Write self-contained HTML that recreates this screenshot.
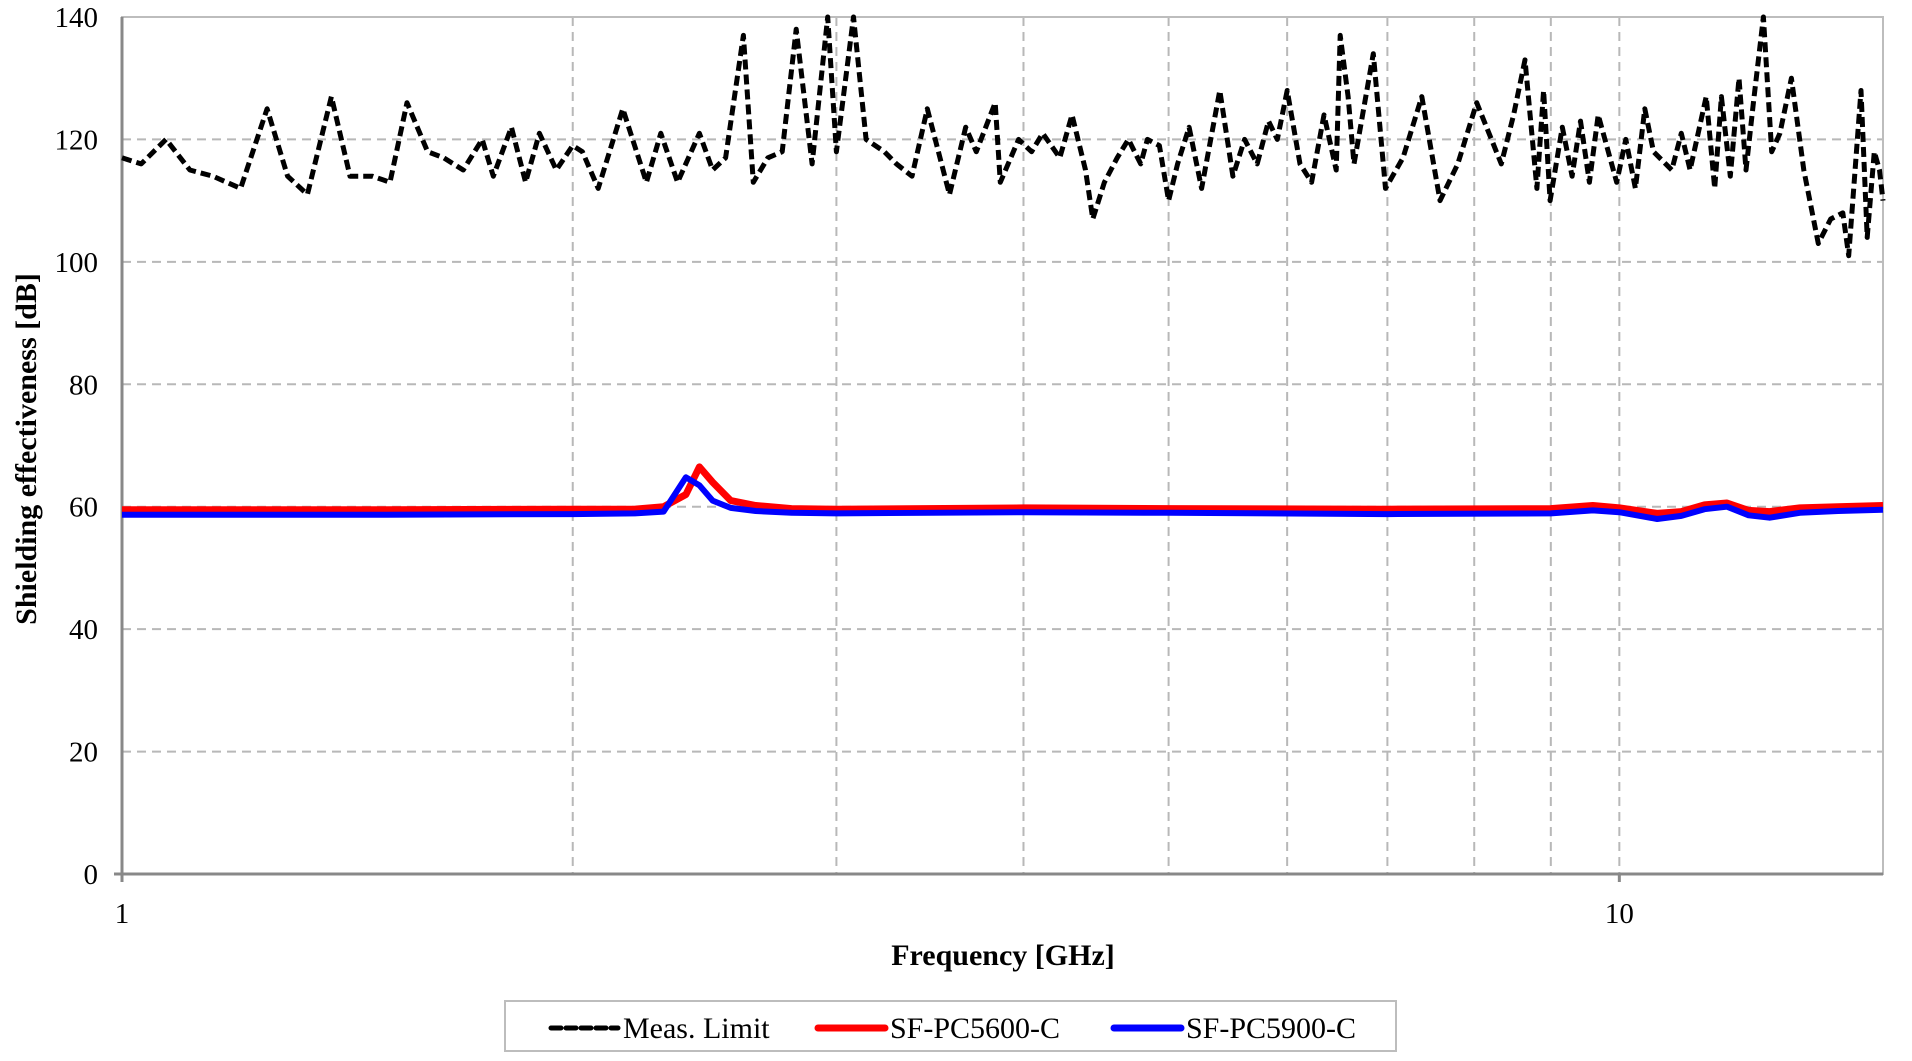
<!DOCTYPE html>
<html><head><meta charset="utf-8"><style>
body{margin:0;background:#fff;}
svg{display:block;font-family:"Liberation Serif",serif;}
</style></head><body>
<svg id="chart" width="1912" height="1061"></svg>
<script>
const yTicks=[0,20,40,60,80,100,120,140];
const xGrid=[2,3,4,5,6,7,8,9,10];
const xTickLabels=[1,10];
const limitF=[1.00,1.03,1.07,1.11,1.15,1.20,1.25,1.29,1.33,1.38,1.42,1.47,1.51,1.55,1.60,1.64,1.69,1.74,1.77,1.82,1.86,1.90,1.95,2.00,2.03,2.08,2.16,2.24,2.29,2.35,2.43,2.48,2.53,2.60,2.64,2.70,2.76,2.82,2.89,2.96,3.00,3.08,3.14,3.23,3.29,3.37,3.45,3.57,3.66,3.72,3.83,3.86,3.97,4.05,4.12,4.23,4.31,4.40,4.45,4.53,4.62,4.70,4.79,4.84,4.93,5.00,5.07,5.16,5.26,5.41,5.52,5.62,5.73,5.83,5.91,6.00,6.12,6.23,6.35,6.47,6.51,6.59,6.65,6.85,6.98,7.17,7.38,7.59,7.80,8.03,8.34,8.50,8.65,8.81,8.90,8.99,9.16,9.30,9.42,9.55,9.68,9.96,10.1,10.25,10.4,10.54,10.84,11.0,11.15,11.43,11.58,11.7,11.86,12.02,12.15,12.29,12.48,12.64,12.8,13.03,13.28,13.58,13.84,14.10,14.23,14.50,14.64,14.8,14.92,15.0];
const limitV=[117,116,120,115,114,112,125,114,111,127,114,114,113,126,118,117,115,120,114,122,113,121,115,119,118,112,125,113,121,113,121,115,117,137,113,117,118,138,116,140,118,140,120,118,116,114,125,111,122,118,126,113,120,118,121,117,124,115,107,113,117,120,116,120,119,110,116,122,112,128,114,120,116,123,120,128,116,113,124,115,137,127,116,134,112,117,127,110,116,126,116,124,133,112,128,110,122,114,123,113,124,113,120,112,125,118,115,121,115,127,112,127,114,130,115,126,140,118,121,130,115,103,107,108,101,128,104,118,115,110];
const seF=[1,1.5,2.0,2.2,2.3,2.38,2.43,2.48,2.55,2.65,2.8,3.0,4.0,5.0,7.0,9.0,9.6,10.0,10.6,11.0,11.4,11.8,12.2,12.6,13.2,14.0,15.0];
const redV=[59.5,59.5,59.6,59.6,60.0,62.0,66.5,64.0,61.0,60.2,59.7,59.6,59.8,59.7,59.6,59.7,60.2,59.8,58.9,59.2,60.3,60.6,59.4,59.2,59.8,60.0,60.2];
const blueV=[58.7,58.7,58.8,58.9,59.2,64.8,63.5,61.0,59.8,59.3,59.0,58.9,59.1,59.0,58.8,58.9,59.4,59.1,58.0,58.5,59.6,60.0,58.6,58.2,59.0,59.3,59.5];
const NS="http://www.w3.org/2000/svg";
const svg=document.getElementById('chart');
const L=122,R=1883,T=17,B=874;
const x=f=>L+(Math.log10(f)/Math.log10(15))*(R-L);
const y=v=>B-v/140*(B-T);
function mk(t,a,p){const e=document.createElementNS(NS,t);for(const k in a)e.setAttribute(k,a[k]);(p||svg).appendChild(e);return e;}
const grid=mk('g',{});


yTicks.forEach(v=>{if(v>0&&v<140){const l=mk('line',{x1:L,x2:R,y1:y(v),y2:y(v),stroke:'#b8b8b8','stroke-width':2,'stroke-dasharray':'9,6'},grid);

}
const t=mk('text',{x:98,y:y(v)+10,'text-anchor':'end','font-size':29},svg);t.textContent=v;

});
xGrid.forEach(f=>{const l=mk('line',{x1:x(f),x2:x(f),y1:T,y2:B,stroke:'#b8b8b8','stroke-width':2,'stroke-dasharray':'9,6'},grid);

});
const frame=mk('rect',{x:L,y:T,width:R-L,height:B-T,fill:'none',stroke:'#bdbdbd','stroke-width':2});


const ax=mk('line',{x1:L-8,x2:R,y1:B,y2:B,stroke:'#888','stroke-width':3});


const ay=mk('line',{x1:L,x2:L,y1:T,y2:B+8,stroke:'#888','stroke-width':3});


xTickLabels.forEach(f=>{const tk=mk('line',{x1:x(f),x2:x(f),y1:B,y2:B+8,stroke:'#888','stroke-width':3});


const t=mk('text',{x:x(f),y:923,'text-anchor':'middle','font-size':29});t.textContent=f;

});
function path(fs,vs,attrs,name){const d=fs.map((f,i)=>(i?'L':'M')+x(f).toFixed(1)+','+y(vs[i]).toFixed(1)).join(' ');
const p=mk('path',Object.assign({d:d,fill:'none','stroke-linejoin':'round'},attrs));

}
path(seF,redV,{stroke:'#ff0000','stroke-width':7},'series-sf-pc5600-c');
path(seF,blueV,{stroke:'#0000ff','stroke-width':6},'series-sf-pc5900-c');
path(limitF,limitV,{stroke:'#000','stroke-width':5,'stroke-dasharray':'10,5'},'series-meas-limit');
const xt=mk('text',{x:1003,y:965,'text-anchor':'middle','font-size':30,'font-weight':'bold'});xt.textContent='Frequency [GHz]';


const yt=mk('text',{x:0,y:0,'text-anchor':'middle','font-size':30,'font-weight':'bold',transform:'translate(36,449) rotate(-90)'});yt.textContent='Shielding effectiveness [dB]';


const lg=mk('g',{});


mk('rect',{x:505,y:1001,width:891,height:50,fill:'#fff',stroke:'#bdbdbd','stroke-width':2},lg);
const items=[['Meas. Limit',551,'#000',5,'10,5'],['SF-PC5600-C',818,'#ff0000',7,''],['SF-PC5900-C',1114,'#0000ff',7,'']];
items.forEach(it=>{const g=mk('g',{},lg);


const a={x1:it[1],x2:it[1]+67,y1:1028,y2:1028,stroke:it[2],'stroke-width':it[3],'stroke-linecap':'round'};if(it[4])a['stroke-dasharray']=it[4];
mk('line',a,g);
const t=mk('text',{x:it[1]+72,y:1038,'font-size':30},g);t.textContent=it[0];});
</script>
</body></html>
